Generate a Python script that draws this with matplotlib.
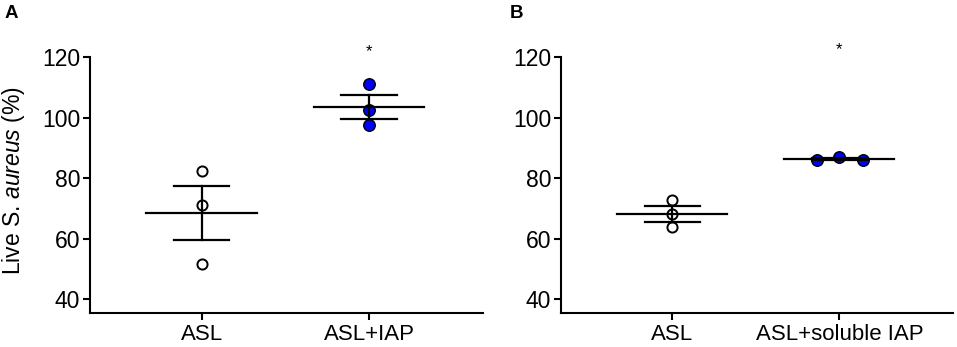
import numpy as np
import matplotlib.pyplot as plt

plt.rcParams['font.family'] = ['Liberation Sans', 'DejaVu Sans']
plt.rcParams['mathtext.fontset'] = 'custom'
plt.rcParams['mathtext.rm'] = 'Liberation Sans'
plt.rcParams['mathtext.it'] = 'Liberation Sans:italic'

# --- data ---
groups_a = ['ASL', 'ASL+IAP']
groups_b = ['ASL', 'ASL+soluble IAP']

a_asl = [82.3, 71.0, 51.8]
a_iap = [111.1, 102.5, 97.5]
b_asl = [72.8, 68.2, 63.8]
b_iap = [85.9, 87.0, 86.0]

# horizontal spread of the points in panel B (category units)
b_iap_jitter = [-0.134, 0.0, 0.144]

star_a = 121.9
star_b = 122.4

yticks = [40, 60, 80, 100, 120]


def mean_sem(v):
    v = np.asarray(v, dtype=float)
    return v.mean(), v.std(ddof=1) / np.sqrt(len(v))


def draw_group(ax, x, vals, filled, jitter=None):
    xs = np.full(len(vals), float(x))
    if jitter is not None:
        xs = xs + np.asarray(jitter)
    if filled:
        ax.plot(xs, vals, 'o', ms=8.3, mfc='#0000ff', mec='black', mew=1.0,
                ls='none', zorder=2, clip_on=False)
    else:
        ax.plot(xs, vals, 'o', ms=7.3, mfc='white', mec='black', mew=1.4,
                ls='none', zorder=2, clip_on=False)
    m, s = mean_sem(vals)
    # mean line, sem whisker and caps
    ax.plot([x - 0.33, x + 0.33], [m, m], color='black', lw=1.6, zorder=3)
    ax.plot([x, x], [m - s, m + s], color='black', lw=1.6, zorder=3)
    for yy in (m - s, m + s):
        ax.plot([x - 0.165, x + 0.165], [yy, yy], color='black', lw=1.6, zorder=3)


fig = plt.figure(figsize=(9.57, 3.47), dpi=100)
ax_a = fig.add_axes([0.094, 0.0974, 0.4107, 0.7813])
ax_b = fig.add_axes([0.5862, 0.0974, 0.4096, 0.7813])

draw_group(ax_a, 0, a_asl, False)
draw_group(ax_a, 1, a_iap, True)
draw_group(ax_b, 0, b_asl, False)
draw_group(ax_b, 1, b_iap, True, b_iap_jitter)

ax_a.text(1, star_a, '*', ha='center', va='center', fontsize=12)
ax_b.text(1, star_b, '*', ha='center', va='center', fontsize=12)

for ax, labels in ((ax_a, groups_a), (ax_b, groups_b)):
    ax.set_xlim(-0.666, 1.68)
    ax.set_ylim(35.37, 125)
    ax.set_yticks(yticks)
    ax.set_xticks([0, 1])
    ax.set_xticklabels(labels)
    ax.spines['top'].set_visible(False)
    ax.spines['right'].set_visible(False)
    ax.spines['left'].set_bounds(35.37, 120)
    for sp in ('left', 'bottom'):
        ax.spines[sp].set_linewidth(1.5)
    ax.tick_params(axis='both', direction='out', length=5, width=1.5,
                   labelsize=16.5, pad=2)
    ax.tick_params(axis='x', labelsize=16, pad=3)

ax_a.set_ylabel('Live S. $\\mathit{aureus}$ (%)', fontsize=16.5)
ax_a.yaxis.set_label_coords(-0.16, 0.49)

fig.text(0.005, 0.962, 'A', fontsize=13.5, fontweight='bold', ha='left', va='center')
fig.text(0.533, 0.962, 'B', fontsize=13.5, fontweight='bold', ha='left', va='center')

fig.savefig('out.png', dpi=100)
